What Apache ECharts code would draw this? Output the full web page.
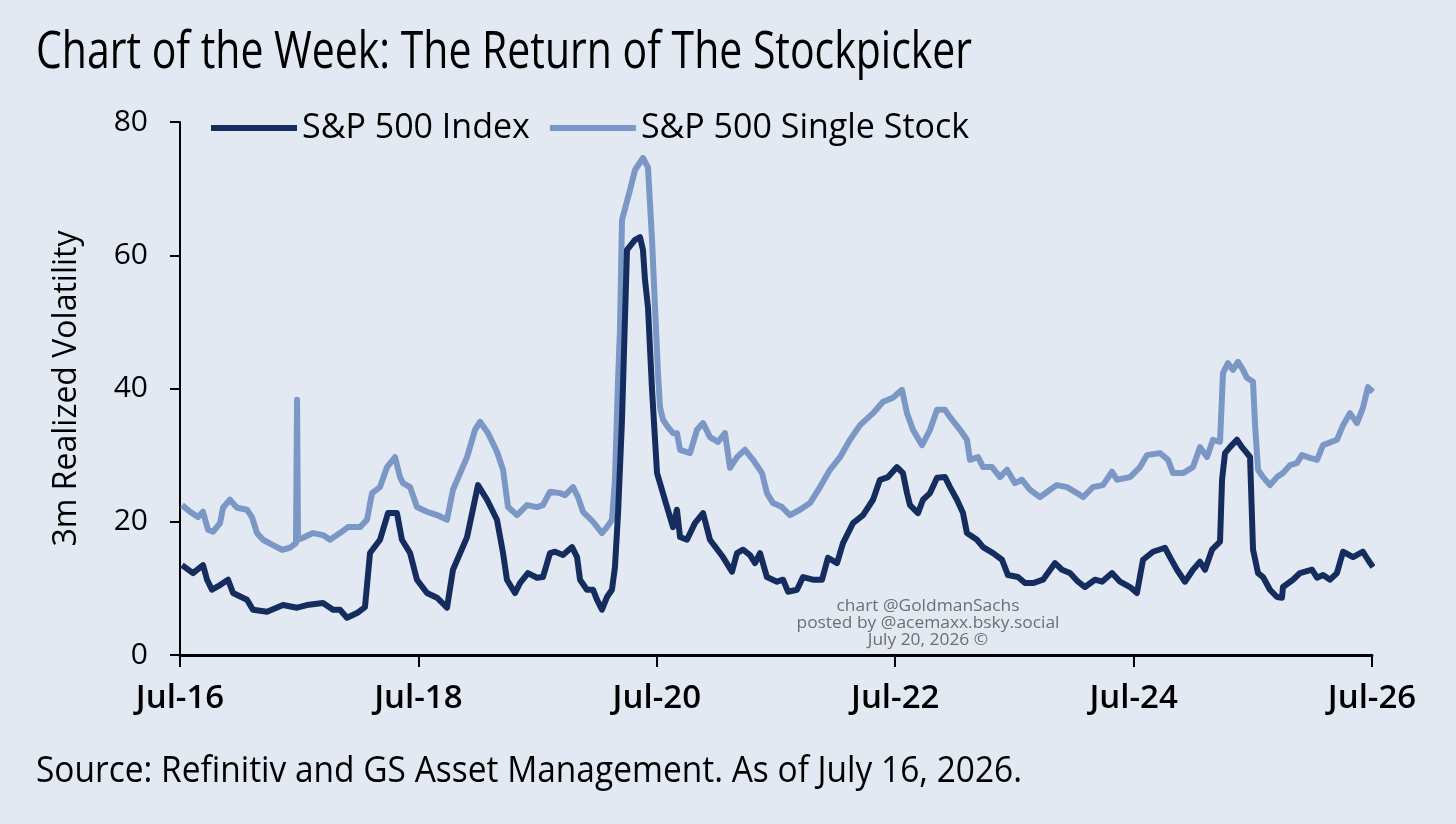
<!DOCTYPE html>
<html>
<head>
<meta charset="utf-8">
<script src="https://cdn.jsdelivr.net/npm/echarts@6/dist/echarts.min.js"></script>
<style>
  html, body { margin: 0; padding: 0; background: #e3e9f3; }
  #chart { width: 1456px; height: 824px; }
</style>
</head>
<body>
<div id="chart"></div>
<script>
// ---- Data (x = decimal year, y = 3m realized volatility) ----
const indexDates = [2016.517,2016.609,2016.693,2016.727,2016.768,2016.836,2016.903,2016.945,2017.062,2017.112,2017.230,2017.364,2017.482,2017.565,2017.700,2017.784,2017.842,2017.901,2017.985,2018.052,2018.094,2018.178,2018.245,2018.320,2018.362,2018.430,2018.488,2018.572,2018.656,2018.740,2018.790,2018.908,2019.000,2019.076,2019.159,2019.210,2019.243,2019.310,2019.352,2019.419,2019.495,2019.545,2019.604,2019.646,2019.713,2019.789,2019.831,2019.856,2019.914,2019.965,2019.998,2020.040,2020.082,2020.124,2020.149,2020.175,2020.208,2020.250,2020.317,2020.359,2020.384,2020.401,2020.426,2020.460,2020.502,2020.586,2020.636,2020.669,2020.695,2020.753,2020.820,2020.888,2020.946,2021.055,2021.131,2021.173,2021.223,2021.282,2021.324,2021.366,2021.424,2021.508,2021.559,2021.601,2021.676,2021.727,2021.810,2021.886,2021.936,2022.012,2022.062,2022.146,2022.230,2022.314,2022.372,2022.440,2022.515,2022.565,2022.599,2022.624,2022.691,2022.733,2022.792,2022.851,2022.918,2022.960,2023.018,2023.069,2023.102,2023.186,2023.237,2023.321,2023.396,2023.446,2023.530,2023.589,2023.656,2023.740,2023.841,2023.899,2023.966,2024.034,2024.092,2024.176,2024.235,2024.319,2024.386,2024.470,2024.528,2024.579,2024.663,2024.763,2024.805,2024.864,2024.931,2024.998,2025.057,2025.099,2025.158,2025.225,2025.242,2025.267,2025.309,2025.367,2025.409,2025.451,2025.477,2025.502,2025.544,2025.586,2025.644,2025.703,2025.745,2025.753,2025.837,2025.896,2025.997,2026.039,2026.089,2026.148,2026.206,2026.257,2026.341,2026.424,2026.466,2026.508];
const indexValues = [13.5,12.3,13.5,11.3,9.8,10.5,11.3,9.3,8.3,6.8,6.5,7.5,7.1,7.5,7.8,6.8,6.8,5.6,6.3,7.2,15.3,17.3,21.3,21.3,17.3,15.3,11.3,9.3,8.6,7.1,12.8,17.7,25.5,23.3,20.3,15.3,11.3,9.3,10.8,12.3,11.6,11.7,15.3,15.5,15.0,16.2,14.7,11.3,9.8,9.8,8.3,6.8,8.7,9.8,13.2,21.3,35.3,60.8,62.3,62.7,60.8,56.3,52.2,39.8,27.3,22.2,19.2,21.8,17.7,17.3,19.8,21.3,17.3,14.7,12.5,15.3,15.8,15.0,13.8,15.3,11.7,11.0,11.3,9.5,9.8,11.7,11.3,11.3,14.6,13.8,16.8,19.8,21.0,23.3,26.3,26.7,28.2,27.3,24.3,22.5,21.3,23.3,24.3,26.6,26.7,25.2,23.3,21.3,18.3,17.3,16.2,15.3,14.3,12.0,11.7,10.8,10.8,11.3,13.8,12.8,12.3,11.0,10.2,11.3,11.0,12.3,11.0,10.2,9.3,14.3,15.5,16.1,14.7,12.8,11.0,12.8,14.0,12.8,15.8,17.0,26.3,30.3,31.2,32.3,31.2,30.3,29.7,15.8,12.3,11.7,9.8,8.7,8.6,10.2,11.3,12.3,12.8,11.6,12.0,11.3,12.3,15.5,14.7,15.5,14.3,13.2];

const stockDates = [2016.517,2016.584,2016.651,2016.693,2016.735,2016.777,2016.836,2016.861,2016.919,2016.978,2017.062,2017.104,2017.146,2017.196,2017.280,2017.356,2017.423,2017.473,2017.482,2017.490,2017.532,2017.616,2017.700,2017.758,2017.842,2017.909,2018.010,2018.069,2018.111,2018.178,2018.237,2018.304,2018.346,2018.371,2018.430,2018.488,2018.572,2018.656,2018.740,2018.790,2018.908,2018.975,2019.017,2019.084,2019.159,2019.210,2019.252,2019.327,2019.411,2019.495,2019.545,2019.604,2019.688,2019.730,2019.797,2019.839,2019.881,2019.965,2020.040,2020.082,2020.124,2020.149,2020.175,2020.191,2020.208,2020.275,2020.317,2020.384,2020.426,2020.460,2020.485,2020.510,2020.527,2020.552,2020.594,2020.636,2020.669,2020.695,2020.779,2020.837,2020.888,2020.946,2021.013,2021.072,2021.114,2021.173,2021.240,2021.307,2021.383,2021.424,2021.475,2021.550,2021.617,2021.701,2021.785,2021.869,2021.953,2022.037,2022.121,2022.205,2022.314,2022.398,2022.481,2022.557,2022.599,2022.649,2022.725,2022.792,2022.851,2022.918,2022.960,2023.044,2023.102,2023.127,2023.195,2023.237,2023.312,2023.379,2023.438,2023.505,2023.564,2023.631,2023.715,2023.799,2023.857,2023.941,2024.025,2024.076,2024.159,2024.243,2024.319,2024.361,2024.470,2024.554,2024.612,2024.721,2024.789,2024.831,2024.915,2024.998,2025.057,2025.116,2025.166,2025.225,2025.250,2025.292,2025.334,2025.376,2025.418,2025.451,2025.502,2025.518,2025.544,2025.586,2025.644,2025.703,2025.753,2025.812,2025.870,2025.912,2025.980,2026.039,2026.089,2026.206,2026.257,2026.315,2026.374,2026.424,2026.466,2026.508];
const stockValues = [22.5,21.5,20.7,21.5,18.8,18.5,19.8,22.1,23.3,22.1,21.8,20.7,18.3,17.3,16.5,15.8,16.1,16.8,38.3,17.3,17.6,18.3,18.0,17.3,18.3,19.2,19.2,20.3,24.3,25.2,28.2,29.7,26.7,25.8,25.2,22.2,21.5,21.0,20.3,24.8,29.7,33.8,35.0,33.3,30.5,27.8,22.2,21.0,22.5,22.2,22.5,24.5,24.3,24.0,25.2,23.7,21.5,20.0,18.3,19.2,20.3,26.3,41.3,48.8,65.3,69.8,72.8,74.6,73.2,62.3,52.2,42.3,37.2,35.3,34.2,33.3,33.3,30.8,30.3,33.8,34.8,32.7,32.0,33.3,28.1,29.7,30.8,29.3,27.3,24.3,22.8,22.2,21.0,21.8,22.8,25.2,27.8,29.7,32.3,34.5,36.3,38.0,38.6,39.8,36.3,33.8,31.5,33.8,36.8,36.8,35.7,33.8,32.3,29.3,29.7,28.2,28.2,26.7,27.8,25.8,26.3,24.8,23.7,24.8,25.5,25.2,24.3,23.7,25.2,25.5,27.5,26.3,26.7,28.2,30.0,30.3,29.3,27.3,27.3,28.2,31.2,29.7,32.3,32.0,42.3,43.8,42.8,44.0,42.8,41.6,41.0,34.8,27.8,26.7,25.5,26.7,27.3,28.5,28.8,30.0,29.6,29.3,31.5,32.3,34.5,36.3,34.8,37.1,40.2,39.5];

const xTickValues = [2016.5, 2018.5, 2020.5, 2022.5, 2024.5, 2026.5];
const xTickLabels = ['Jul-16', 'Jul-18', 'Jul-20', 'Jul-22', 'Jul-24', 'Jul-26'];
const yTickValues = [0, 20, 40, 60, 80];
const seriesNames = ['S&P 500 Index', 'S&P 500 Single Stock'];
const titleText = 'Chart of the Week: The Return of The Stockpicker';
const sourceText = 'Source: Refinitiv and GS Asset Management. As of July 16, 2026.';
const creditText = ['chart @GoldmanSachs', 'posted by @acemaxx.bsky.social', 'July 20, 2026 ©'];

// ---- Build ----
const zip = (xs, ys) => xs.map((x, i) => [x, ys[i]]);
const body = "'Open Sans', 'Noto Sans', sans-serif";
const cond = "'Liberation Sans Narrow', 'Open Sans', sans-serif";
const DARK = '#142d5e';
const LIGHT = '#7b97c5';

// measure text to squeeze condensed-looking text into the reference width
const mctx = document.createElement('canvas').getContext('2d');
function fitScale(text, font, target) {
  mctx.font = font;
  return target / mctx.measureText(text).width;
}
const titleFont = "51px " + cond;
const sourceFont = "37px " + cond;
const creditFont = "17px " + cond;

const chart = echarts.init(document.getElementById('chart'), null, { renderer: 'canvas' });
chart.setOption({
  backgroundColor: '#e3e9f3',
  animation: false,
  legend: {
    left: 206, top: 106,
    icon: 'rect', itemWidth: 86, itemHeight: 6, itemGap: 20,
    textStyle: { fontFamily: body, fontSize: 34, color: '#000', padding: [0, 0, 0, 0] },
    data: seriesNames
  },
  grid: { left: 180, right: 84, top: 122, bottom: 169, containLabel: false },
  xAxis: {
    type: 'value', min: 2016.5, max: 2026.5,
    splitLine: { show: false },
    axisLine: { show: true, lineStyle: { color: '#000', width: 3 } },
    axisTick: { show: true, customValues: xTickValues, length: 12, lineStyle: { color: '#000', width: 2 } },
    axisLabel: {
      customValues: xTickValues,
      formatter: v => xTickLabels[xTickValues.indexOf(v)] ?? '',
      margin: 27, fontFamily: body, fontSize: 33, fontWeight: 600, color: '#000'
    }
  },
  yAxis: {
    type: 'value', min: 0, max: 80, interval: 20,
    name: '3m Realized Volatility', nameLocation: 'middle', nameGap: 97, nameRotate: 90,
    nameTextStyle: { fontFamily: body, fontSize: 32, color: '#000' },
    splitLine: { show: false },
    axisLine: { show: true, lineStyle: { color: '#000', width: 2 } },
    axisTick: { show: true, length: 10, lineStyle: { color: '#000', width: 2 } },
    axisLabel: { margin: 32, fontFamily: body, fontSize: 30, color: '#000',
      formatter: v => yTickValues.includes(v) ? String(v) : '' }
  },
  graphic: [
    {
      type: 'text', x: 36, y: 28, scaleX: fitScale(titleText, titleFont, 936),
      style: { text: titleText, font: titleFont, fill: '#000', textAlign: 'left', textVerticalAlign: 'top' }
    },
    {
      type: 'text', x: 36, y: 753, scaleX: fitScale(sourceText, sourceFont, 986),
      style: { text: sourceText, font: sourceFont, fill: '#000', textAlign: 'left', textVerticalAlign: 'top' }
    },
    {
      type: 'text', x: 928, y: 598, scaleX: fitScale(creditText[1], creditFont, 263),
      style: { text: creditText.join('\n'), font: creditFont, fill: '#6e6e6e',
        textAlign: 'center', textVerticalAlign: 'top', lineHeight: 17 }
    }
  ],
  series: [
    {
      name: seriesNames[0], type: 'line', data: zip(indexDates, indexValues),
      showSymbol: false, symbol: 'none', z: 3,
      lineStyle: { color: DARK, width: 6, join: 'round' }, itemStyle: { color: DARK }
    },
    {
      name: seriesNames[1], type: 'line', data: zip(stockDates, stockValues),
      showSymbol: false, symbol: 'none', z: 2,
      lineStyle: { color: LIGHT, width: 6, join: 'round' }, itemStyle: { color: LIGHT }
    }
  ]
});
</script>
</body>
</html>
